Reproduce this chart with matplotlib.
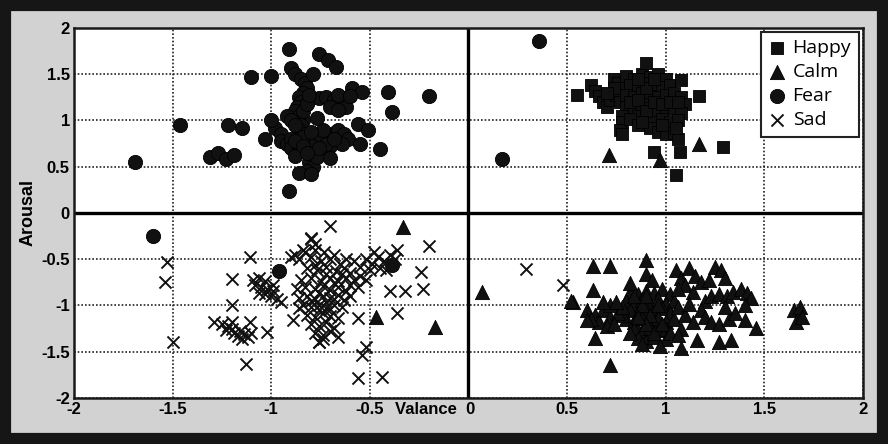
import numpy as np
import matplotlib.pyplot as plt
from matplotlib.patches import Rectangle

# (valance, arousal) pairs per emotion class
happy = [
    (0.62, 1.38), (0.64, 1.32), (0.66, 1.26), (0.68, 1.20), (0.70, 1.15), (0.72, 1.22),
    (0.74, 1.45), (0.76, 1.40), (0.78, 1.35), (0.75, 1.28), (0.77, 1.20), (0.80, 1.48),
    (0.84, 1.45), (0.88, 1.50), (0.92, 1.47), (0.96, 1.50), (1.00, 1.45), (0.82, 1.38),
    (0.86, 1.36), (0.90, 1.40), (0.94, 1.38), (0.98, 1.36), (1.02, 1.38), (0.80, 1.28),
    (0.84, 1.25), (0.88, 1.30), (0.92, 1.27), (0.96, 1.25), (1.00, 1.28), (1.04, 1.30),
    (1.08, 1.25), (1.10, 1.18), (0.80, 1.15), (0.84, 1.12), (0.88, 1.18), (0.92, 1.14),
    (0.96, 1.10), (1.00, 1.15), (1.04, 1.12), (1.08, 1.08), (0.78, 1.05), (0.78, 0.98),
    (0.77, 0.90), (0.78, 0.85), (0.86, 1.05), (0.90, 1.02), (0.94, 0.98), (0.98, 1.02),
    (1.02, 0.98), (1.06, 1.00), (0.92, 0.92), (0.96, 0.88), (1.00, 0.85), (1.04, 0.86),
    (1.06, 0.80), (1.05, 0.92), (0.82, 1.02), (0.86, 0.95), (0.82, 1.20), (0.86, 1.22),
    (0.90, 1.10), (0.94, 1.20), (0.98, 1.18), (1.02, 1.20), (0.90, 1.35), (0.86, 1.45),
    (0.94, 1.45), (1.06, 1.20), (0.98, 0.95), (0.88, 0.98), (0.74, 1.35), (0.70, 1.30),
    (0.90, 1.62), (0.55, 1.28), (1.08, 1.44), (1.17, 1.26),
    (1.29, 0.71), (0.94, 0.66), (1.07, 0.66), (1.05, 0.41),
]

calm = [
    (0.82, -0.85), (0.86, -0.88), (0.90, -0.84), (0.94, -0.86), (0.98, -0.82), (1.02, -0.88),
    (0.80, -0.95), (0.84, -0.98), (0.88, -0.94), (0.92, -0.97), (0.96, -0.93), (1.00, -0.98),
    (1.04, -0.95), (0.82, -1.05), (0.86, -1.08), (0.90, -1.04), (0.94, -1.07), (0.98, -1.03),
    (1.02, -1.08), (0.80, -1.15), (0.84, -1.18), (0.88, -1.14), (0.92, -1.17), (0.96, -1.13),
    (1.00, -1.18), (1.04, -1.15), (0.84, -1.25), (0.88, -1.28), (0.92, -1.24), (0.96, -1.27),
    (1.00, -1.25), (0.86, -1.35), (0.90, -1.38), (0.94, -1.34), (1.00, -1.36), (0.97, -1.44),
    (0.88, -1.42), (0.84, -0.90), (0.88, -1.00), (0.92, -1.10), (0.96, -1.00), (0.90, -1.20),
    (0.86, -1.12), (0.94, -1.30), (0.98, -1.20), (1.02, -1.30), (0.82, -1.30), (0.78, -1.10),
    (0.90, -0.90),
    (0.60, -1.05), (0.64, -1.10), (0.68, -1.05), (0.72, -1.12), (0.76, -1.08), (0.66, -1.18),
    (0.70, -1.22), (0.74, -1.20), (0.62, -1.15), (0.78, -1.02), (0.72, -1.00), (0.68, -0.96),
    (1.05, -0.62), (1.08, -0.70), (1.12, -0.60), (1.15, -0.68), (1.10, -0.78), (1.18, -0.75),
    (1.25, -0.58), (1.28, -0.62), (1.30, -0.70), (1.22, -0.72), (1.06, -0.82), (1.14, -0.85),
    (1.20, -0.95), (1.23, -0.90), (1.27, -0.88), (1.31, -0.90), (1.34, -0.85), (1.38, -0.82),
    (1.41, -0.86), (1.43, -0.92), (1.40, -1.00), (1.18, -1.05), (1.20, -1.12), (1.23, -1.18),
    (1.27, -1.20), (1.32, -1.15), (1.35, -1.08), (1.30, -1.02), (1.46, -1.24), (1.40, -1.16),
    (1.33, -1.37), (1.27, -1.39),
    (1.06, -1.02), (1.10, -1.10), (1.12, -0.98), (1.14, -1.18), (1.08, -1.25), (1.16, -1.37),
    (1.08, -1.46), (1.06, -1.32),
    (0.90, -0.51), (0.63, -0.57), (0.72, -0.57), (0.63, -0.83), (0.53, -0.96), (0.82, -0.76),
    (0.75, -0.96), (0.64, -1.35), (0.72, -1.64), (0.90, -0.66), (0.93, -0.72), (1.65, -1.05),
    (1.68, -1.02), (1.66, -1.18), (1.69, -1.12), (0.07, -0.85), (-0.33, -0.15), (-0.47, -1.12),
    (-0.17, -1.23), (0.52, -0.95), (0.60, -1.16), (0.71, 0.63), (0.97, 0.57), (1.17, 0.75),
]

fear = [
    (-0.90, 1.57), (-0.88, 1.50), (-0.85, 1.45), (-0.83, 1.40), (-0.82, 1.35), (-0.84, 1.30),
    (-0.86, 1.25), (-0.85, 1.20), (-0.87, 1.15), (-0.88, 1.10), (-0.86, 1.05), (-0.84, 1.00),
    (-0.85, 0.95), (-0.86, 0.90), (-0.83, 0.85), (-0.80, 0.80), (-0.82, 0.75), (-0.80, 0.70),
    (-0.78, 0.65), (-0.80, 0.60), (-0.81, 0.55), (-0.79, 0.50), (-0.82, 0.45), (-0.86, 0.43),
    (-0.80, 0.42),
    (-0.80, 1.24), (-0.76, 1.24), (-0.72, 1.25), (-0.68, 1.22), (-0.65, 1.18), (-0.63, 1.24),
    (-0.66, 1.28), (-0.70, 1.15), (-0.59, 1.35), (-0.54, 1.31),
    (-0.98, 0.92), (-0.95, 0.85), (-1.03, 0.80), (-0.95, 0.78), (-0.92, 0.75), (-0.90, 0.80),
    (-0.90, 0.70), (-0.86, 0.68), (-0.75, 0.78), (-0.72, 0.80), (-0.70, 0.83), (-0.68, 0.86),
    (-0.66, 0.90), (-0.63, 0.85), (-0.61, 0.80), (-0.64, 0.75), (-0.70, 0.72), (-0.74, 0.68),
    (-0.77, 0.60), (-0.70, 0.59), (-0.88, 0.62), (-0.92, 1.05), (-0.90, 1.00), (-0.88, 0.95),
    (-0.84, 0.82), (-0.78, 0.75), (-0.76, 0.85), (-0.72, 0.75), (-0.68, 0.80), (-0.74, 0.90),
    (-0.80, 0.88), (-0.88, 0.78), (-0.84, 0.72), (-0.76, 0.70), (-0.82, 0.65), (-0.84, 1.10),
    (-0.82, 1.18), (-0.81, 1.28), (-0.62, 1.15), (-0.60, 1.26),
    (-0.77, 1.03), (-0.66, 1.11), (-0.56, 0.96), (-0.51, 0.90), (-0.55, 0.75), (-0.45, 0.69),
    (-0.41, 1.31), (-0.39, 1.09), (-0.20, 1.27), (-0.91, 0.24), (-0.91, 1.77), (-0.76, 1.72),
    (-0.71, 1.65), (-0.67, 1.58), (-1.10, 1.47), (-1.00, 1.48), (-0.79, 1.50), (-1.00, 1.00),
    (-1.46, 0.95), (-1.22, 0.95), (-1.15, 0.92), (-1.31, 0.60), (-1.27, 0.65), (-1.23, 0.58),
    (-1.19, 0.63), (-1.69, 0.55), (0.36, 1.86), (0.17, 0.58), (-1.60, -0.25), (-0.96, -0.63),
    (-0.39, -0.56),
]

sad = [
    (-0.80, -0.28), (-0.78, -0.33), (-0.84, -0.40), (-0.78, -0.40), (-0.73, -0.42), (-0.68, -0.45),
    (-0.86, -0.50), (-0.80, -0.48), (-0.75, -0.52), (-0.70, -0.50), (-0.65, -0.55), (-0.62, -0.50),
    (-0.82, -0.60), (-0.77, -0.62), (-0.72, -0.58), (-0.67, -0.63), (-0.63, -0.60), (-0.60, -0.65),
    (-0.85, -0.72), (-0.80, -0.70), (-0.75, -0.73), (-0.70, -0.70), (-0.66, -0.74), (-0.62, -0.70),
    (-0.58, -0.72), (-0.87, -0.82), (-0.83, -0.80), (-0.78, -0.82), (-0.74, -0.79), (-0.70, -0.83),
    (-0.66, -0.80), (-0.62, -0.84), (-0.60, -0.78), (-0.86, -0.92), (-0.82, -0.90), (-0.78, -0.93),
    (-0.74, -0.90), (-0.70, -0.92), (-0.66, -0.89), (-0.63, -0.94), (-0.60, -0.90), (-0.84, -1.00),
    (-0.80, -1.02), (-0.76, -0.99), (-0.72, -1.03), (-0.68, -1.00), (-0.64, -1.02), (-0.82, -1.10),
    (-0.78, -1.12), (-0.74, -1.08), (-0.70, -1.11), (-0.66, -1.13), (-0.80, -1.20), (-0.76, -1.22),
    (-0.72, -1.18), (-0.68, -1.24), (-0.78, -1.30), (-0.74, -1.32), (-0.70, -1.28), (-0.76, -1.40),
    (-0.74, -1.36), (-0.76, -0.86), (-0.72, -0.96), (-0.68, -0.76), (-0.80, -0.95), (-0.72, -0.66),
    (-0.76, -1.05), (-0.70, -1.04), (-0.64, -0.66), (-0.78, -0.56), (-0.68, -0.93),
    (-0.58, -0.52), (-0.55, -0.58), (-0.52, -0.50), (-0.49, -0.55), (-0.46, -0.48), (-0.43, -0.52),
    (-0.40, -0.45), (-0.37, -0.50), (-0.36, -0.40), (-0.48, -0.42), (-0.55, -0.68), (-0.52, -0.72),
    (-0.56, -0.80), (-0.50, -0.62), (-0.45, -0.60), (-0.42, -0.62), (-0.90, -0.48), (-0.83, -0.42),
    (-1.09, -0.72), (-1.06, -0.70), (-1.03, -0.74), (-1.08, -0.78), (-1.05, -0.80), (-1.02, -0.82),
    (-0.99, -0.84), (-1.06, -0.86), (-1.03, -0.88), (-1.00, -0.90), (-0.97, -0.93), (-0.99, -0.78),
    (-0.95, -0.96),
    (-1.25, -1.20), (-1.22, -1.22), (-1.20, -1.25), (-1.23, -1.27), (-1.19, -1.30), (-1.16, -1.28),
    (-1.17, -1.33), (-1.14, -1.31), (-1.12, -1.34), (-1.10, -1.30), (-1.15, -1.36), (-1.20, -1.18),
    (-0.70, -0.14), (-0.20, -0.36), (-1.11, -0.48), (-1.20, -0.71), (-1.20, -0.99), (-1.29, -1.18),
    (-1.11, -1.18), (-1.02, -1.29), (-1.13, -1.63), (-0.89, -1.16), (-0.86, -1.03), (-0.88, -0.45),
    (-0.80, -0.27), (-0.24, -0.64), (-0.40, -0.84), (-0.32, -0.84), (-0.23, -0.82), (-0.36, -1.08),
    (-0.52, -1.45), (-0.54, -1.54), (-0.56, -1.78), (-0.44, -1.77), (-0.56, -1.13), (-0.66, -1.34),
    (-0.76, -1.39), (-1.53, -0.53), (-1.54, -0.75), (-1.50, -1.39), (0.29, -0.61), (0.48, -0.78),
]

ticks = [-2, -1.5, -1, -0.5, 0, 0.5, 1, 1.5, 2]
tick_labels = ["-2", "-1.5", "-1", "-0.5", "0", "0.5", "1", "1.5", "2"]

plt.rcParams["font.family"] = ["Liberation Sans", "DejaVu Sans"]

fig = plt.figure(figsize=(8.88, 4.44), dpi=100, facecolor="#d2d2d2")
# dark outer frame around the whole figure
fig.patches.append(Rectangle((0, 0), 1, 1, transform=fig.transFigure,
                             fill=False, edgecolor="#161616", linewidth=16))
ax = fig.add_axes([0.0833, 0.1036, 0.8885, 0.8334])

mk = dict(color="#111111", zorder=3)
for pts, marker, size, label in [(happy, "s", 85, "Happy"),
                                 (calm, "^", 105, "Calm"),
                                 (fear, "o", 105, "Fear"),
                                 (sad, "x", 75, "Sad")]:
    p = np.array(pts)
    if marker == "x":
        ax.scatter(p[:, 0], p[:, 1], marker=marker, s=size, linewidths=1.4,
                   label=label, **mk)
    else:
        ax.scatter(p[:, 0], p[:, 1], marker=marker, s=size, linewidths=0.6,
                   edgecolors="#000000", label=label, **mk)

ax.set_xlim(-2, 2)
ax.set_ylim(-2, 2)
ax.set_xticks(ticks)
ax.set_yticks(ticks)
ax.set_xticklabels(["" if t == "0" else t for t in tick_labels])
ax.set_yticklabels(tick_labels)
ax.tick_params(length=0, pad=3, labelsize=12)
for lab in ax.get_xticklabels() + ax.get_yticklabels():
    lab.set_fontweight("bold")

ax.grid(True, linestyle=(0, (1, 1.2)), color="#222222", linewidth=1.2)
ax.axhline(0, color="black", linewidth=2.4, zorder=2)
ax.axvline(0, color="black", linewidth=2.4, zorder=2)
for s in ax.spines.values():
    s.set_linewidth(1.8)
    s.set_color("#1a1a1a")

ax.set_ylabel("Arousal", fontsize=13, fontweight="bold", labelpad=3)
ax.annotate("Valance  0", xy=(0.035, -2), xycoords="data", xytext=(0, -3),
            textcoords="offset points", ha="right", va="top",
            fontsize=12, fontweight="bold")

leg = ax.legend(loc="upper right", bbox_to_anchor=(0.995, 0.99), borderaxespad=0,
                frameon=True, fancybox=False, framealpha=1,
                handletextpad=0.35, handlelength=0.9, labelspacing=0.3,
                borderpad=0.4, prop={"family": ["Open Sans", "DejaVu Sans"], "size": 14})
leg.get_frame().set_edgecolor("#222222")
leg.get_frame().set_linewidth(1.5)

fig.savefig("out.png", dpi=100, facecolor=fig.get_facecolor())
